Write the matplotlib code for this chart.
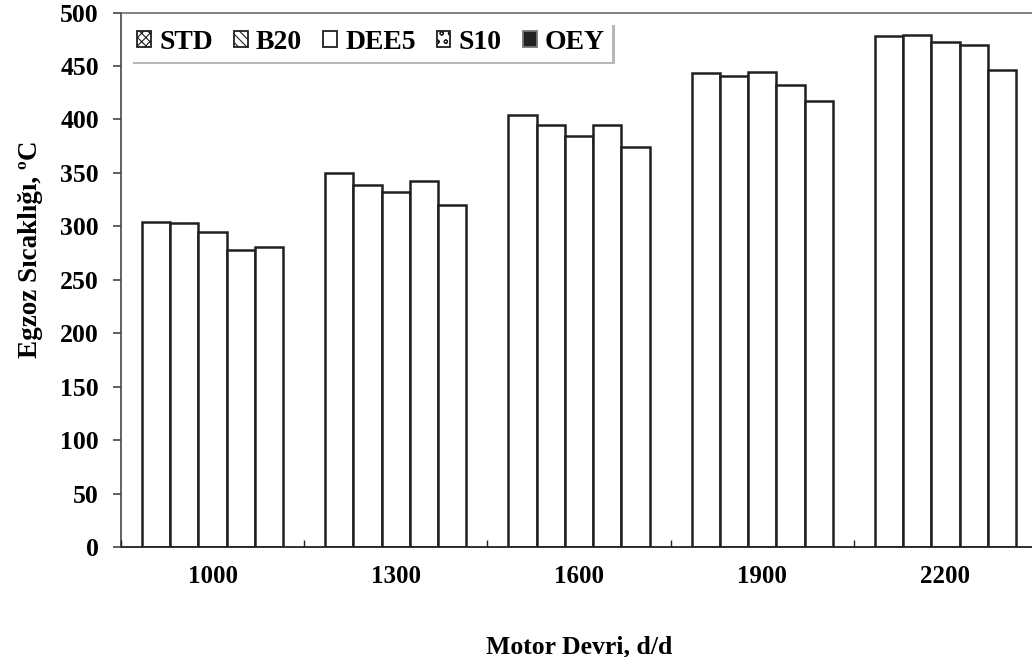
import matplotlib
matplotlib.use("Agg")
import matplotlib.pyplot as plt
import numpy as np
from matplotlib.patches import Patch

plt.rcParams['font.family'] = ['Liberation Serif', 'DejaVu Serif']
plt.rcParams['font.weight'] = 'bold'
plt.rcParams['hatch.linewidth'] = 0.8

speeds = ['1000', '1300', '1600', '1900', '2200']
fuels = ['STD', 'B20', 'DEE5', 'S10', 'OEY']
std = [304, 350, 404, 443, 478]
b20 = [303, 339, 395, 441, 479]
dee5 = [295, 332, 385, 444, 472]
s10 = [278, 342, 395, 432, 470]
oey = [281, 320, 374, 417, 446]
series = [std, b20, dee5, s10, oey]

edge = '#231f20'
fig = plt.figure(figsize=(10.32, 6.57), dpi=100)
W, H = 1032.0, 657.0
left, right, bottom, top = 121, 1037, 547.3, 12.5
ax = fig.add_axes([left / W, 1 - bottom / H, (right - left) / W, (bottom - top) / H])
ax.set_axisbelow(False)

x = np.arange(len(speeds))
bw = 0.154
for i, vals in enumerate(series):
    ax.bar(x + (i - 2) * bw, vals, bw, color='white', edgecolor=edge,
           linewidth=1.8, zorder=2)

ax.set_xlim(-0.5, len(speeds) - 0.5)
ax.set_ylim(0, 500)
ax.set_yticks(range(0, 501, 50))
ax.set_xticks(x)
ax.set_xticklabels(speeds)
ax.set_xticks(np.arange(-0.5, len(speeds), 0.5), minor=True)
ax.tick_params(axis='x', which='major', length=0, pad=13, labelsize=18)
ax.tick_params(axis='x', which='minor', direction='in', length=5, width=1.0,
               color=edge)
ax.tick_params(axis='y', direction='out', length=6, width=1.2, color='#444444',
               labelsize=18.5, pad=10)
ax.spines['left'].set_color('#555555')
ax.spines['top'].set_color('#777777')
ax.spines['right'].set_color('#555555')
ax.spines['bottom'].set_color(edge)
for s in ax.spines.values():
    s.set_linewidth(1.3)

ax.set_xlabel('Motor Devri, d/d', fontsize=18.5, fontweight='bold', labelpad=34)
ax.set_ylabel('Egzoz Sıcaklığı, ºC', fontsize=19.5, fontweight='bold', labelpad=12)
ax.yaxis.label.set_y(0.558)

hatches = ['xxxx', '\\\\\\\\', '', 'oo', '']
faces = ['white', 'white', 'white', 'white', '#222222']
edges = [edge, edge, edge, edge, '#777777']
handles = [Patch(facecolor=f, edgecolor=e, hatch=h, linewidth=1.3)
           for f, e, h in zip(faces, edges, hatches)]
leg = ax.legend(handles, fuels, loc='upper left', bbox_to_anchor=(0.0098, 0.981),
                ncol=5, frameon=True, shadow={'color': '#888888', 'alpha': 0.6},
                fancybox=False, prop={'size': 20, 'weight': 'bold'},
                handlelength=0.5, handleheight=0.5, handletextpad=0.3,
                columnspacing=0.75, borderpad=0.25, borderaxespad=0,
                edgecolor='white')
leg.get_frame().set_linewidth(0)

fig.savefig('out.png', dpi=100)
